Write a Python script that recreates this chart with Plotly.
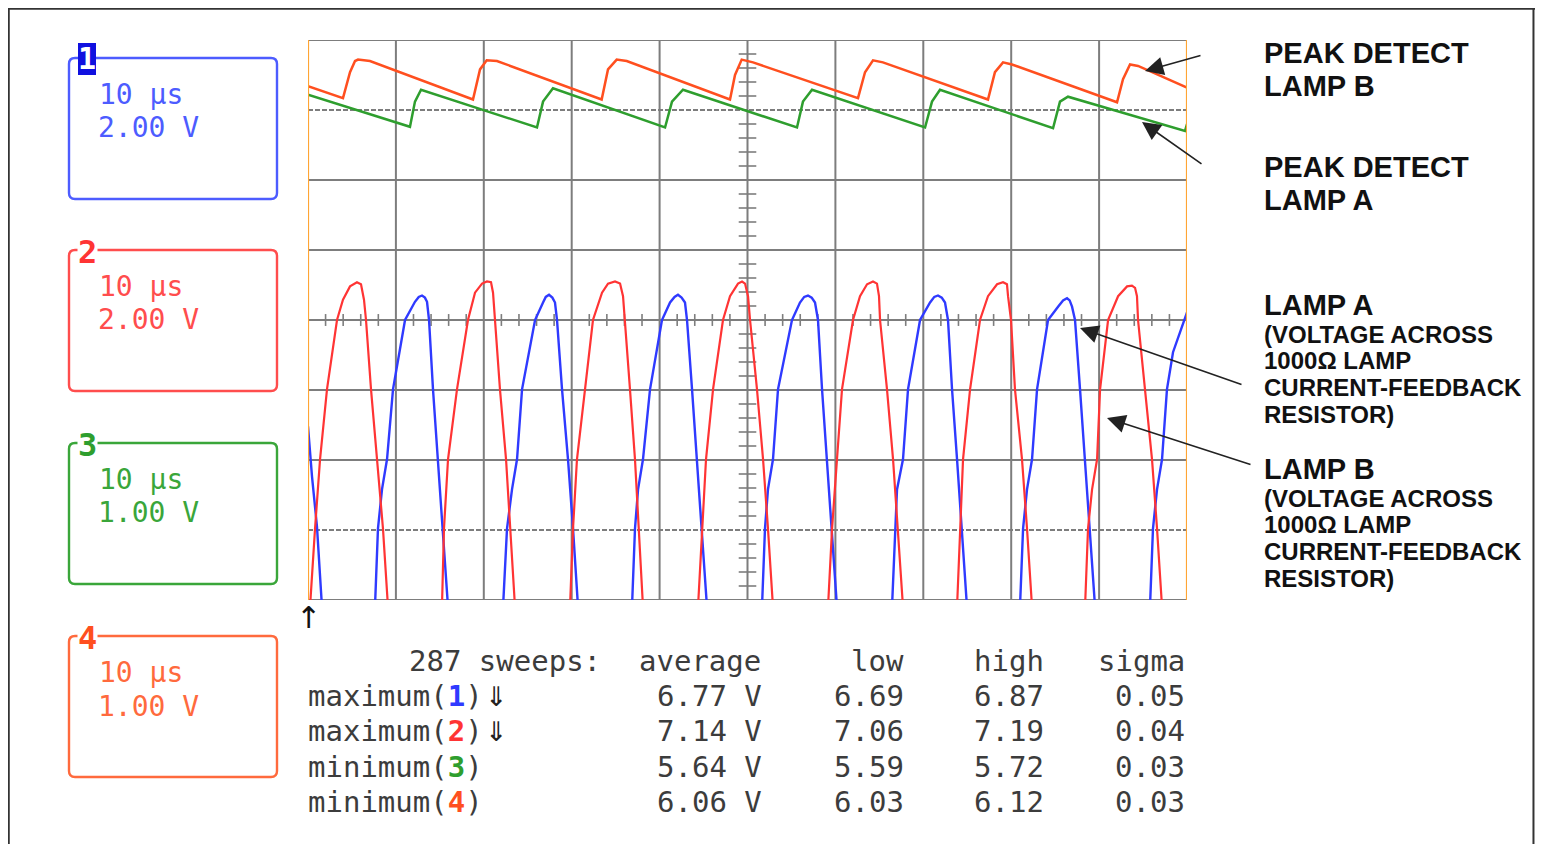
import plotly.graph_objects as go

# ---------------- data (time in µs at 10 µs/div, amplitude in screen divisions) ----------------
# Channel 1 (blue) - Lamp A voltage across 1000 ohm feedback resistor
ch1_t = [0.00, 0.46, 1.02, 1.59,
         7.62, 7.96, 8.42, 8.99, 9.67, 11.04, 12.17, 12.60, 12.97, 13.30, 13.54, 13.77, 14.22, 14.79, 15.36, 15.93,
         22.19, 22.64, 23.21, 23.78, 24.35, 25.83, 26.74, 27.05, 27.42, 27.80, 28.10, 28.33, 28.90, 29.58, 30.15, 30.72,
         36.86, 37.20, 37.55, 38.11, 38.91, 40.27, 41.19, 41.70, 42.09, 42.50, 42.89, 43.12, 43.69, 44.26, 44.83, 45.39,
         51.65, 51.99, 52.33, 52.90, 53.47, 55.06, 55.97, 56.45, 56.88, 57.30, 57.68, 58.02, 58.48, 59.05, 59.62, 60.18,
         66.44, 66.79, 67.01, 67.69, 68.26, 69.63, 70.77, 71.25, 71.67, 72.10, 72.47, 72.81, 73.27, 73.84, 74.41, 74.97,
         81.00, 81.35, 81.80, 82.37, 82.94, 84.19, 85.33, 85.90, 86.35, 86.65, 86.92, 87.26, 87.83, 88.40, 88.97, 89.54,
         95.79, 96.13, 96.59, 97.16, 97.72, 98.41, 100.0]
ch1_v = [-1.52, -2.24, -2.95, -4.10,
         -4.10, -2.98, -2.42, -1.99, -0.99, 0.00, 0.26, 0.33, 0.35, 0.32, 0.26, 0.00, -0.99, -1.99, -2.98, -4.10,
         -4.10, -2.98, -2.42, -1.99, -0.99, 0.00, 0.25, 0.33, 0.36, 0.32, 0.25, 0.00, -0.99, -1.99, -2.98, -4.10,
         -4.10, -2.98, -2.42, -1.99, -0.99, 0.00, 0.25, 0.33, 0.36, 0.32, 0.25, 0.00, -0.99, -1.99, -2.98, -4.10,
         -4.10, -2.98, -2.42, -1.99, -0.99, 0.00, 0.25, 0.33, 0.35, 0.32, 0.25, 0.00, -0.99, -1.99, -2.98, -4.10,
         -4.10, -2.98, -2.42, -1.99, -0.99, 0.00, 0.25, 0.33, 0.35, 0.32, 0.25, 0.00, -0.99, -1.99, -2.98, -4.10,
         -4.10, -2.98, -2.42, -1.99, -0.99, 0.00, 0.19, 0.28, 0.31, 0.28, 0.19, 0.00, -0.99, -1.99, -2.98, -4.10,
         -4.10, -2.98, -2.42, -1.99, -0.99, -0.46, 0.11]

# Channel 2 (red) - Lamp B voltage across 1000 ohm feedback resistor
ch2_t = [0.00,
         0.23, 0.80, 1.37, 2.16, 3.30, 3.98, 4.78, 5.57, 6.03, 6.37, 6.60, 7.17, 7.85, 8.53, 9.10,
         15.24, 15.47, 15.93, 16.95, 18.20, 19.00, 19.80, 20.36, 20.82, 21.05, 21.28, 21.84, 22.53, 22.98, 23.55,
         29.81, 30.15, 30.60, 31.51, 32.42, 33.45, 34.13, 34.93, 35.50, 35.84, 36.06, 36.63, 37.20, 37.66, 38.11,
         44.37, 44.83, 45.28, 46.08, 47.21, 48.01, 48.92, 49.38, 49.72, 50.06, 50.29, 51.08, 51.77, 52.33, 52.90,
         59.16, 59.62, 60.18, 60.75, 62.00, 62.80, 63.60, 64.28, 64.73, 64.96, 65.08, 65.87, 66.56, 67.12, 67.69,
         73.84, 74.18, 74.52, 75.32, 76.45, 77.36, 78.39, 79.07, 79.52, 79.64, 79.98, 80.43, 81.23, 81.80, 82.37,
         88.40, 88.74, 89.20, 89.77, 90.11, 91.02, 92.16, 93.18, 93.74, 94.09, 94.31, 94.43, 95.22, 96.02, 96.59, 97.16,
         100.0]
ch2_v = [-4.30,
         -4.10, -2.98, -1.99, -0.99, 0.00, 0.29, 0.48, 0.54, 0.51, 0.29, 0.00, -0.99, -1.99, -2.98, -4.10,
         -4.10, -2.98, -1.99, -0.99, 0.00, 0.39, 0.52, 0.55, 0.54, 0.39, 0.00, -0.99, -1.99, -2.98, -4.10,
         -4.10, -2.98, -1.99, -0.99, 0.00, 0.39, 0.52, 0.55, 0.52, 0.34, 0.00, -0.99, -1.99, -2.98, -4.10,
         -4.10, -2.98, -1.99, -0.99, 0.00, 0.34, 0.52, 0.55, 0.52, 0.34, 0.00, -0.99, -1.99, -2.98, -4.10,
         -4.10, -2.98, -1.99, -0.99, 0.00, 0.34, 0.51, 0.55, 0.52, 0.34, 0.00, -0.99, -1.99, -2.98, -4.10,
         -4.10, -2.98, -1.99, -0.99, 0.00, 0.34, 0.51, 0.54, 0.51, 0.34, 0.00, -0.99, -1.99, -2.98, -4.10,
         -4.10, -2.98, -2.42, -1.99, -0.99, 0.00, 0.34, 0.48, 0.49, 0.46, 0.34, 0.00, -0.99, -1.99, -2.98, -4.10,
         -4.30]

# Channel 3 (green) - peak detect Lamp A
ch3_t = [0.00, 11.60, 12.17, 12.86, 26.05, 26.74, 27.87, 40.62, 41.41, 42.66, 55.63, 56.31, 57.34,
         70.20, 70.99, 71.90, 84.76, 85.55, 86.46, 99.77, 100.0]
ch3_v = [3.22, 2.76, 3.12, 3.29, 2.75, 3.12, 3.31, 2.75, 3.12, 3.29, 2.75, 3.12, 3.29,
         2.75, 3.12, 3.29, 2.74, 3.12, 3.19, 2.70, 2.80]

# Channel 4 (orange) - peak detect Lamp B
ch4_t = [0.00, 3.98, 4.78, 5.35, 5.69, 7.05, 18.77, 19.57, 20.33, 21.50, 33.41, 34.13, 35.12, 36.26,
         48.01, 48.58, 49.34, 50.63, 62.57, 63.37, 64.28, 65.41, 77.36, 78.15, 79.07, 80.09,
         92.04, 92.72, 93.52, 94.43, 100.0]
ch4_v = [3.34, 3.17, 3.54, 3.70, 3.72, 3.70, 3.15, 3.58, 3.71, 3.70, 3.15, 3.58, 3.72, 3.70,
         3.15, 3.50, 3.72, 3.68, 3.17, 3.54, 3.71, 3.68, 3.15, 3.54, 3.68, 3.65,
         3.11, 3.44, 3.65, 3.63, 3.32]

channels = ["1", "2", "3", "4"]
timebase = ["10 µs", "10 µs", "10 µs", "10 µs"]
vscale = ["2.00 V", "2.00 V", "1.00 V", "1.00 V"]

sweeps = 287
stat_kind = ["maximum", "maximum", "minimum", "minimum"]
stat_mark = ["⇓", "⇓", "", ""]
stat_avg = ["6.77 V", "7.14 V", "5.64 V", "6.06 V"]
stat_low = ["6.69", "7.06", "5.59", "6.03"]
stat_high = ["6.87", "7.19", "5.72", "6.12"]
stat_sigma = ["0.05", "0.04", "0.03", "0.03"]

callout_peak = [["PEAK DETECT", "LAMP B"], ["PEAK DETECT", "LAMP A"]]
callout_lamp = [["LAMP A", "(VOLTAGE ACROSS", "1000Ω LAMP", "CURRENT-FEEDBACK", "RESISTOR)"],
                ["LAMP B", "(VOLTAGE ACROSS", "1000Ω LAMP", "CURRENT-FEEDBACK", "RESISTOR)"]]

# ---------------- styling / layout helpers ----------------
W, H = 1527, 836
OX, OY = 8, 8


def PX(x):
    return (x - OX) / W


def PY(y):
    return 1 - (y - OY) / H


trace_col = {"1": "#2f3aff", "2": "#ff3434", "3": "#2e9e2e", "4": "#ff4f1f"}
box_col = {"1": "#4d5cff", "2": "#ff4d4d", "3": "#3aa63a", "4": "#ff6a3d"}
MONO = "DejaVu Sans Mono"
SANS = "Liberation Sans, Arial"

fig = go.Figure()
fig.add_trace(go.Scatter(x=ch3_t, y=ch3_v, mode="lines", line=dict(color=trace_col["3"], width=2.5), hoverinfo="skip"))
fig.add_trace(go.Scatter(x=ch4_t, y=ch4_v, mode="lines", line=dict(color=trace_col["4"], width=2.5), hoverinfo="skip"))
fig.add_trace(go.Scatter(x=ch1_t, y=ch1_v, mode="lines", line=dict(color=trace_col["1"], width=2.4), hoverinfo="skip"))
fig.add_trace(go.Scatter(x=ch2_t, y=ch2_v, mode="lines", line=dict(color=trace_col["2"], width=2.2), hoverinfo="skip"))

shapes = []
grid_col = "#7d7d7d"
for i in range(11):
    shapes.append(dict(type="line", xref="x", yref="y", x0=i * 10, x1=i * 10, y0=-4, y1=4,
                       line=dict(color=grid_col, width=2), layer="below"))
for j in range(9):
    yv = j - 4
    shapes.append(dict(type="line", xref="x", yref="y", x0=0, x1=100, y0=yv, y1=yv,
                       line=dict(color=grid_col, width=2, dash="5px,2px" if abs(yv) == 3 else "solid"),
                       layer="below"))
# centre graticule ticks
for k in range(-20, 21):
    if k % 5 == 0:
        continue
    shapes.append(dict(type="line", xref="x", yref="y", x0=49.0, x1=51.0, y0=k * 0.2, y1=k * 0.2,
                       line=dict(color=grid_col, width=1.6), layer="below"))
for k in range(1, 50):
    if k % 5 == 0:
        continue
    shapes.append(dict(type="line", xref="x", yref="y", x0=k * 2, x1=k * 2, y0=-0.085, y1=0.085,
                       line=dict(color=grid_col, width=1.6), layer="below"))
# orange side edges of the screen
for xv in (0, 100):
    shapes.append(dict(type="line", xref="x", yref="y", x0=xv, x1=xv, y0=-4, y1=4,
                       line=dict(color="#ffa534", width=2.2)))

# channel boxes (rounded rectangles)
box_tops = [58, 250, 443, 636]
box_h = 141
bx0, bx1 = 69, 277
r = 6


def rounded(x0, y0, x1, y1):
    a, b, c, d = PX(x0), PY(y0), PX(x1), PY(y1)
    rx, ry = r / W, r / H
    return (f"M {a + rx},{b} L {c - rx},{b} Q {c},{b} {c},{b - ry} L {c},{d + ry} "
            f"Q {c},{d} {c - rx},{d} L {a + rx},{d} Q {a},{d} {a},{d + ry} L {a},{b - ry} Q {a},{b} {a + rx},{b} Z")


for ch, top in zip(channels, box_tops):
    shapes.append(dict(type="path", xref="paper", yref="paper", path=rounded(bx0, top, bx1, top + box_h),
                       line=dict(color=box_col[ch], width=2.4)))
# filled label for channel 1
shapes.append(dict(type="rect", xref="paper", yref="paper", x0=PX(78), x1=PX(96), y0=PY(75), y1=PY(43),
                   fillcolor="#1010e0", line=dict(width=0)))
# outer frame of the screenshot
shapes.append(dict(type="line", xref="paper", yref="paper", x0=0.0005, x1=0.0005, y0=0, y1=1,
                   line=dict(color="#333", width=2)))
shapes.append(dict(type="line", xref="paper", yref="paper", x0=0, x1=1, y0=0.999, y1=0.999,
                   line=dict(color="#333", width=2)))
shapes.append(dict(type="line", xref="paper", yref="paper", x0=0.999, x1=0.999, y0=0, y1=1,
                   line=dict(color="#333", width=2)))

ann = []


def text(x, y, s, size, color, family, anchor="left", yanchor="middle", bg=None):
    d = dict(x=PX(x), y=PY(y), xref="paper", yref="paper", text=s, showarrow=False,
             xanchor=anchor, yanchor=yanchor, font=dict(size=size, color=color, family=family))
    if bg:
        d["bgcolor"] = bg
        d["borderpad"] = 0
    ann.append(d)


for ch, top, tb, vs in zip(channels, box_tops, timebase, vscale):
    text(97, top + 36, tb, 28, box_col[ch], MONO)
    text(96, top + 70, vs, 28, box_col[ch], MONO)
    if ch == "1":
        text(87, 59, "<b>1</b>", 30, "white", MONO, anchor="center")
    else:
        text(87, top + 2, f"<b>{ch}</b>", 32, trace_col[ch], MONO, anchor="center", bg="white")

# statistics table
tcol = "#3c3c3c"
text(603, 661, f"{sweeps} sweeps:", 29, tcol, MONO, anchor="right")
text(763, 661, "average", 29, tcol, MONO, anchor="right")
text(906, 661, "low", 29, tcol, MONO, anchor="right")
text(1046, 661, "high", 29, tcol, MONO, anchor="right")
text(1187, 661, "sigma", 29, tcol, MONO, anchor="right")
row_y = [696, 731, 767, 802]
for ch, kind, mk, av, lo, hi, sg, yy in zip(channels, stat_kind, stat_mark, stat_avg, stat_low,
                                            stat_high, stat_sigma, row_y):
    lab = f"{kind}(<span style='color:{trace_col[ch]}'><b>{ch}</b></span>)"
    text(306, yy, lab, 29, tcol, MONO)
    if mk:
        text(483, yy, mk, 27, "#222", "DejaVu Sans")
    text(764, yy, av, 29, tcol, MONO, anchor="right")
    text(906, yy, lo, 29, tcol, MONO, anchor="right")
    text(1046, yy, hi, 29, tcol, MONO, anchor="right")
    text(1187, yy, sg, 29, tcol, MONO, anchor="right")

# trigger arrow
text(308, 617, "↑", 30, "#111", "DejaVu Sans", anchor="center")

# callout labels
for lines, y0 in zip(callout_peak, [53, 167]):
    for i, s in enumerate(lines):
        text(1262, y0 + i * 33, f"<b>{s}</b>", 29, "#111", SANS)
for lines, y0 in zip(callout_lamp, [305, 469]):
    text(1262, y0, f"<b>{lines[0]}</b>", 29, "#111", SANS)
    for i, s in enumerate(lines[1:]):
        text(1262, y0 + 29 + i * 26.8, f"<b>{s}</b>", 24, "#111", SANS)

# arrows (tip, tail) in screenshot pixels
arrows = [((1145, 71), (1202, 55)), ((1142, 122), (1203, 165)),
          ((1080, 328), (1243, 385)), ((1107, 418), (1252, 465))]
for (tx, ty), (sx, sy) in arrows:
    ann.append(dict(x=PX(tx), y=PY(ty), xref="paper", yref="paper", text="", showarrow=True,
                    axref="pixel", ayref="pixel", ax=sx - tx, ay=sy - ty,
                    arrowhead=2, arrowsize=2.3, arrowwidth=1.6, arrowcolor="#222"))

fig.update_layout(
    width=W, height=H, margin=dict(l=0, r=0, t=0, b=0),
    paper_bgcolor="white", plot_bgcolor="white", showlegend=False,
    xaxis=dict(domain=[PX(308), PX(1187)], range=[0, 100], visible=False, fixedrange=True),
    yaxis=dict(domain=[PY(600), PY(40)], range=[-4, 4], visible=False, fixedrange=True),
    shapes=shapes, annotations=ann,
)

fig.write_html("out.html")
